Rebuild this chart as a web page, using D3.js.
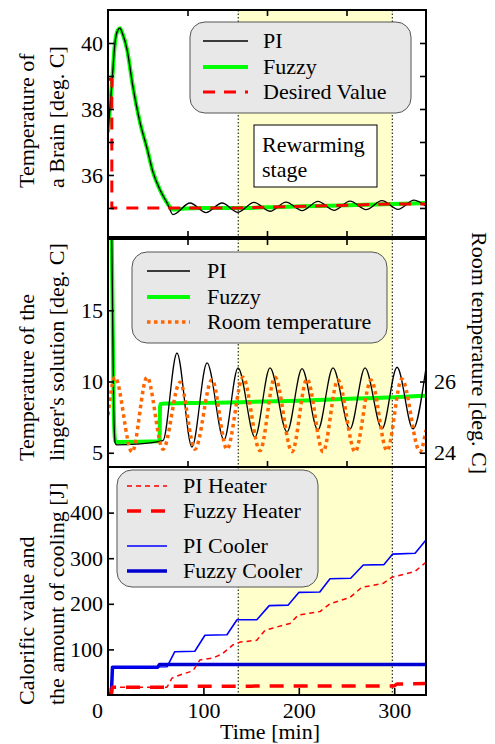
<!DOCTYPE html>
<html>
<head>
<meta charset="utf-8">
<script src="https://cdn.jsdelivr.net/npm/d3@7"></script>
<style>
  body { margin: 0; background: #fff; }
  .axis path { display: none; }
  .axis line { stroke: #000; stroke-width: 1.6; }
</style>
</head>
<body>
<script>
// ---- data (time in minutes) ----
const timeMax = 20000 / 60;
const timeTicks = [0, 100, 200, 300];
const secTicks = [5000, 10000, 15000];       // minor ticks on upper panels (seconds)
const rewarming = [136.5, 298];

const brainTicks = [35, 36, 37, 38, 39, 40];
const brainLabels = [36, 38, 40];
const liquidTicks = [5, 10, 15];
const roomTicks = [24, 26];
const heatTicks = [100, 200, 300, 400];

// brain temperature [deg C]
const brainStart = [[0, 37.3], [4.2, 38.8], [7.3, 40.0], [10.5, 40.4], [12.6, 40.45], [15, 40.3],
  [20, 39.8], [26, 38.7], [33.5, 37.6], [41, 36.8], [47, 36.1], [54.5, 35.55], [62, 35.15]];
const brainPI = brainStart.concat([[68.1, 34.8], [86, 35.15], [102.7, 34.86], [119.5, 35.15],
  [136.3, 34.87], [153, 35.17], [169.8, 34.9], [186.6, 35.18], [203.4, 34.92], [220.1, 35.2],
  [236.9, 34.93], [253.7, 35.21], [270.4, 34.95], [287.2, 35.22], [304, 34.96], [320.8, 35.24],
  [333.3, 35.05]]);
const brainFuzzy = brainStart.concat([[68, 34.95], [80, 34.98], [100, 35.0], [136.5, 35.0],
  [180, 35.03], [220, 35.06], [260, 35.09], [298, 35.12], [333.3, 35.15]]);
const brainDesired = [[0, 38.9], [4, 38.9], [4, 35], [136.5, 35], [298, 35.12], [333.3, 35.12]];

// Ringer's solution temperature [deg C]
const liquidPI = [[2, 30], [4.5, 17], [6, 8], [7.5, 5.7], [9, 5.55], [30, 5.6], [57.6, 5.85],
  [72.3, 12.0], [88, 5.4], [103.8, 11.3], [121.6, 5.9], [136.3, 10.95], [154, 6.1],
  [169.8, 10.95], [187.6, 6.46], [203.4, 10.9], [220, 6.6], [235.8, 10.95], [253.7, 6.67],
  [269.4, 10.95], [287.2, 6.67], [303, 11.0], [319.7, 6.67], [333.3, 10.95]];
const liquidFuzzy = [[2, 30], [4.5, 17], [6, 8], [7.5, 5.85], [9, 5.75], [54, 5.8], [54.6, 8.4],
  [60, 8.45], [100, 8.5], [140, 8.55], [200, 8.65], [260, 8.8], [300, 8.9], [333.3, 9.0]];
// room temperature [deg C] (right axis)
const roomTemp = [[0, 25.06], [7.3, 26.12], [25.2, 24.02], [40.9, 26.12], [57.7, 24.1],
  [75.5, 25.98], [91.2, 24.1], [109, 26.05], [124.7, 24.1], [141.5, 26.12], [159.3, 24.06],
  [175, 26.12], [192.9, 24.03], [208.6, 26.07], [225.4, 24.03], [241, 26.04], [259, 24.03],
  [275.7, 26.04], [292.5, 24.06], [308, 26.07], [327, 24.03], [333.3, 24.64]];

// calorific value / amount of cooling [J]
const heaterPI = [[0, 2], [3.5, 2], [4.5, 17], [61.8, 17], [67, 37], [75.4, 44], [89, 53],
  [96.4, 77], [110, 81], [119.5, 90], [131, 110], [138.4, 116], [155.9, 120], [164.6, 142],
  [190.8, 157], [199.2, 175], [222.2, 183], [232.7, 200], [253.7, 214], [266, 236],
  [288.6, 245], [297.4, 258], [321.8, 271], [333.3, 291]];
const heaterFuzzy = [[0, 2], [3.5, 2], [4.5, 17], [62, 17], [63, 19], [150, 19], [155, 20],
  [300, 20], [303, 24], [333.3, 25]];
const coolerPI = [[0, 2], [3.5, 2], [4.5, 61], [62, 62], [70, 95], [91, 96], [101.6, 131],
  [124.7, 132], [135.2, 165], [156, 165], [169, 196], [188.7, 197], [200, 225], [222, 226],
  [232.7, 255], [254.4, 256], [267.6, 285], [289.3, 286], [298.4, 309], [321.9, 311],
  [333.3, 340]];
const coolerFuzzy = [[0, 2], [3.5, 2], [4.7, 61], [52, 61], [54, 67], [333.3, 67]];

// ---- layout ----
const width = 495, height = 744;
const L = 108, R = 426;
const P = [{ top: 10, bottom: 237 }, { top: 239, bottom: 467 }, { top: 467, bottom: 695 }];
const FONT = "Liberation Serif";

const svg = d3.select("body").append("svg").attr("width", width).attr("height", height);
const x = d3.scaleLinear().domain([0, timeMax]).range([L, R]);

const y1 = d3.scaleLinear().domain([34.12, 41]).range([P[0].bottom, P[0].top]);
const y2 = d3.scaleLinear().domain([4, 20]).range([P[1].bottom, P[1].top]);
const y2r = d3.scaleLinear().domain([23.6, 30]).range([P[1].bottom, P[1].top]);
const y3 = d3.scaleLinear().domain([0, 500]).range([P[2].bottom, P[2].top]);

const styles = {
  pi: { stroke: "#000", width: 1.3 },
  fuzzy: { stroke: "#00ff00", width: 4 },
  desired: { stroke: "#ff0000", width: 3, dash: "12,9" },
  room: { stroke: "#ff6600", width: 3.5, dash: "3.5,3.5" },
  piHeat: { stroke: "#ff0000", width: 1.5, dash: "5,4" },
  fzHeat: { stroke: "#ff0000", width: 3.5, dash: "14,10" },
  piCool: { stroke: "#0000ff", width: 1.6 },
  fzCool: { stroke: "#0000d0", width: 3.5 }
};

function label(sel) {
  return sel.attr("font-family", FONT).attr("font-size", 22).attr("fill", "#000");
}

function panel(i) {
  const p = P[i];
  const id = "clip" + i;
  svg.append("clipPath").attr("id", id).append("rect")
    .attr("x", L).attr("y", p.top).attr("width", R - L).attr("height", p.bottom - p.top);
  const g = svg.append("g").attr("clip-path", "url(#" + id + ")");
  // rewarming stage shading
  g.append("rect").attr("x", x(rewarming[0])).attr("y", p.top)
    .attr("width", x(rewarming[1]) - x(rewarming[0])).attr("height", p.bottom - p.top)
    .attr("fill", "#ffffcc");
  rewarming.forEach(t => {
    g.append("line").attr("x1", x(t)).attr("x2", x(t)).attr("y1", p.top).attr("y2", p.bottom)
      .attr("stroke", "#000").attr("stroke-width", 1).attr("stroke-dasharray", "1.5,2");
  });
  return g;
}

function plotLine(g, data, y, st, curve) {
  g.append("path").datum(data)
    .attr("fill", "none")
    .attr("stroke", st.stroke)
    .attr("stroke-width", st.width)
    .attr("stroke-dasharray", st.dash || null)
    .attr("stroke-linejoin", "round")
    .attr("d", d3.line().x(d => x(d[0])).y(d => y(d[1])).curve(curve || d3.curveMonotoneX));
}

function legend(box, items) {
  const g = svg.append("g");
  g.append("rect").attr("x", box.x).attr("y", box.y).attr("width", box.w).attr("height", box.h)
    .attr("rx", 15).attr("fill", "#e8e8e8").attr("stroke", "#555").attr("stroke-width", 1);
  items.forEach(it => {
    const st = styles[it.key];
    g.append("line").attr("x1", box.lx1).attr("x2", box.lx2).attr("y1", it.y).attr("y2", it.y)
      .attr("stroke", st.stroke).attr("stroke-width", st.width)
      .attr("stroke-dasharray", st.dash || null);
    label(g.append("text")).attr("x", box.tx).attr("y", it.y + 7).text(it.label);
  });
}

function frame(i) {
  const p = P[i];
  svg.append("rect").attr("x", L).attr("y", p.top).attr("width", R - L)
    .attr("height", p.bottom - p.top).attr("fill", "none")
    .attr("stroke", "#000").attr("stroke-width", 2);
}

function axis(ax, transform) {
  const g = svg.append("g").attr("class", "axis").attr("transform", transform).call(ax);
  label(g.selectAll("text"));
  return g;
}

const secX = secTicks.map(s => s / 60);
const noLabel = () => "";

// ---- panel 1: brain temperature ----
const g1 = panel(0);
plotLine(g1, brainFuzzy, y1, styles.fuzzy);
plotLine(g1, brainPI, y1, styles.pi);
plotLine(g1, brainDesired, y1, styles.desired, d3.curveLinear);

svg.append("rect").attr("x", 254).attr("y", 125).attr("width", 123).attr("height", 62)
  .attr("fill", "#fff").attr("stroke", "#000").attr("stroke-width", 1);
label(svg.append("text")).attr("x", 262).attr("y", 152).text("Rewarming");
label(svg.append("text")).attr("x", 262).attr("y", 177).text("stage");

legend({ x: 190, y: 22, w: 221, h: 91, lx1: 203, lx2: 248, tx: 263 }, [
  { key: "pi", label: "PI", y: 41 },
  { key: "fuzzy", label: "Fuzzy", y: 67 },
  { key: "desired", label: "Desired Value", y: 92 }
]);
frame(0);
axis(d3.axisLeft(y1).tickValues(brainTicks).tickSize(-6).tickPadding(5)
  .tickFormat(d => brainLabels.includes(d) ? d : ""), `translate(${L},0)`);
axis(d3.axisRight(y1).tickValues(brainTicks).tickSize(-6).tickFormat(noLabel), `translate(${R},0)`);
axis(d3.axisTop(x).tickValues(secX).tickSize(-6).tickFormat(noLabel), `translate(0,${P[0].top})`);
axis(d3.axisBottom(x).tickValues(secX).tickSize(-6).tickFormat(noLabel), `translate(0,${P[0].bottom})`);

// ---- panel 2: Ringer's solution ----
const g2 = panel(1);
plotLine(g2, liquidFuzzy, y2, styles.fuzzy);
plotLine(g2, liquidPI, y2, styles.pi);
plotLine(g2, roomTemp, y2r, styles.room);

legend({ x: 132, y: 252, w: 255, h: 91, lx1: 147, lx2: 190, tx: 207 }, [
  { key: "pi", label: "PI", y: 271 },
  { key: "fuzzy", label: "Fuzzy", y: 297 },
  { key: "room", label: "Room temperature", y: 322 }
]);
frame(1);
axis(d3.axisLeft(y2).tickValues(liquidTicks).tickSize(-6).tickPadding(5), `translate(${L},0)`);
axis(d3.axisRight(y2r).tickValues(roomTicks).tickSize(-6).tickPadding(8)
  .tickFormat(d3.format("d")), `translate(${R},0)`);
axis(d3.axisTop(x).tickValues(secX).tickSize(-6).tickFormat(noLabel), `translate(0,${P[1].top})`);
axis(d3.axisBottom(x).tickValues(secX).tickSize(-6).tickFormat(noLabel), `translate(0,${P[1].bottom})`);

// ---- panel 3: heater / cooler ----
const g3 = panel(2);
plotLine(g3, coolerFuzzy, y3, styles.fzCool, d3.curveLinear);
plotLine(g3, coolerPI, y3, styles.piCool, d3.curveLinear);
plotLine(g3, heaterFuzzy, y3, styles.fzHeat, d3.curveLinear);
plotLine(g3, heaterPI, y3, styles.piHeat, d3.curveLinear);

legend({ x: 117, y: 470, w: 201, h: 117, lx1: 127, lx2: 167, tx: 183 }, [
  { key: "piHeat", label: "PI Heater", y: 486 },
  { key: "fzHeat", label: "Fuzzy Heater", y: 511 },
  { key: "piCool", label: "PI Cooler", y: 546 },
  { key: "fzCool", label: "Fuzzy Cooler", y: 571 }
]);
frame(2);
axis(d3.axisLeft(y3).tickValues(heatTicks).tickSize(-6).tickPadding(5), `translate(${L},0)`);
const xb = axis(d3.axisBottom(x).tickValues(timeTicks).tickSize(-7).tickPadding(7),
  `translate(0,${P[2].bottom})`);
xb.selectAll(".tick text").filter(d => d === 0).attr("dx", -11);

// ---- axis titles ----
function vtitle(lines, yStart) {
  lines.forEach((s, k) => {
    label(svg.append("text"))
      .attr("transform", `translate(${34 + 30 * k},${yStart}) rotate(-90)`)
      .attr("text-anchor", "start").text(s);
  });
}
vtitle(["Temperature of", "a Brain [deg. C]"], 188);
vtitle(["Temperature of the", "linger's solution [deg. C]"], 461);
vtitle(["Calorific value and", "the amount of cooling [J]"], 705);

label(svg.append("text"))
  .attr("transform", `translate(472,${(P[1].top + P[1].bottom) / 2}) rotate(90)`)
  .attr("text-anchor", "middle").text("Room temperature [deg. C]");

label(svg.append("text")).attr("x", 270).attr("y", 739)
  .attr("text-anchor", "middle").text("Time [min]");
</script>
</body>
</html>
